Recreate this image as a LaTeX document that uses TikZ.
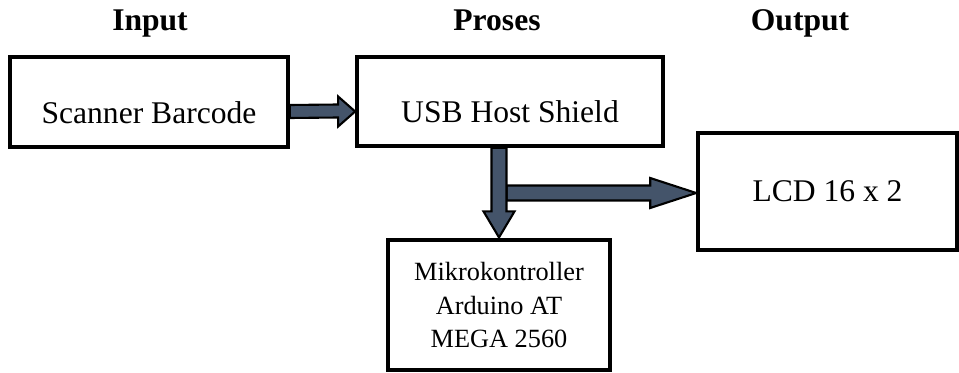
\documentclass[tikz,border=0pt]{standalone}
\usepackage{fontspec}
\setmainfont{Liberation Serif}
\usetikzlibrary{calc}
\usepackage{xcolor}
\definecolor{arrowfill}{RGB}{68,84,106}

\begin{document}
\begin{tikzpicture}[x=0.38pt,y=-0.38pt,
      box/.style={draw=black,line width=1.4pt,inner sep=0pt,align=center,font=\fontsize{12}{14}\selectfont},
      lowtext/.style={text height=16pt,text depth=0pt},
      head/.style={anchor=base,font=\bfseries\fontsize{12}{14}\selectfont},
      blockarrow/.style={draw=black,line width=0.8pt,fill=arrowfill,line join=miter}
    ]
      \useasboundingbox (0,0) rectangle (959,373);
      % column titles
      \node[head] (hin) at (150,31) {Input};
      \node[head] (hpro) at (497,31) {Proses};
      \node[head] (hout) at (800,31) {Output};
      % blocks
      \node[box,lowtext,minimum width=105.6pt,minimum height=34.2pt] (scan) at (149,102) {Scanner Barcode};
      \node[box,lowtext,minimum width=116.3pt,minimum height=33.8pt] (usb) at (510,101.5) {USB Host Shield};
      \node[box,minimum width=98.4pt,minimum height=44.5pt] (lcd) at (827.5,191.5) {LCD 16 x 2};
      \node[box,line width=1.2pt,minimum width=84.4pt,minimum height=49.4pt,font=\fontsize{10}{12.9}\selectfont] (mcu) at (499,305) {Mikrokontroller\\Arduino AT\\MEGA 2560};
      % block arrows
      \draw[blockarrow] ($(scan.east)+(0,3)$) -- ($(usb.west)+(-17,3)$) -- ($(usb.west)+(-17,-5)$)
        -- ($(usb.west)+(0,10)$) -- ($(usb.west)+(-17,25)$) -- ($(usb.west)+(-17,16)$)
        -- ($(scan.east)+(0,16)$) -- cycle;
      \draw[blockarrow] ($(lcd.west -| mcu.north)+(7.5,-6)$) -- ($(lcd.west)+(-46,-6)$) -- ($(lcd.west)+(-46,-13.5)$)
        -- ($(lcd.west)+(0,1.5)$) -- ($(lcd.west)+(-46,16.5)$) -- ($(lcd.west)+(-46,9)$)
        -- ($(lcd.west -| mcu.north)+(7.5,9)$) -- cycle;
      \draw[blockarrow] ($(usb.south -| mcu.north)+(-7.5,0)$) -- ($(mcu.north)+(-7.5,-27)$) -- ($(mcu.north)+(-15.5,-27)$)
        -- ($(mcu.north)+(0,-1)$) -- ($(mcu.north)+(15.5,-27)$) -- ($(mcu.north)+(7.5,-27)$)
        -- ($(usb.south -| mcu.north)+(7.5,0)$) -- cycle;
    \end{tikzpicture}
\end{document}
